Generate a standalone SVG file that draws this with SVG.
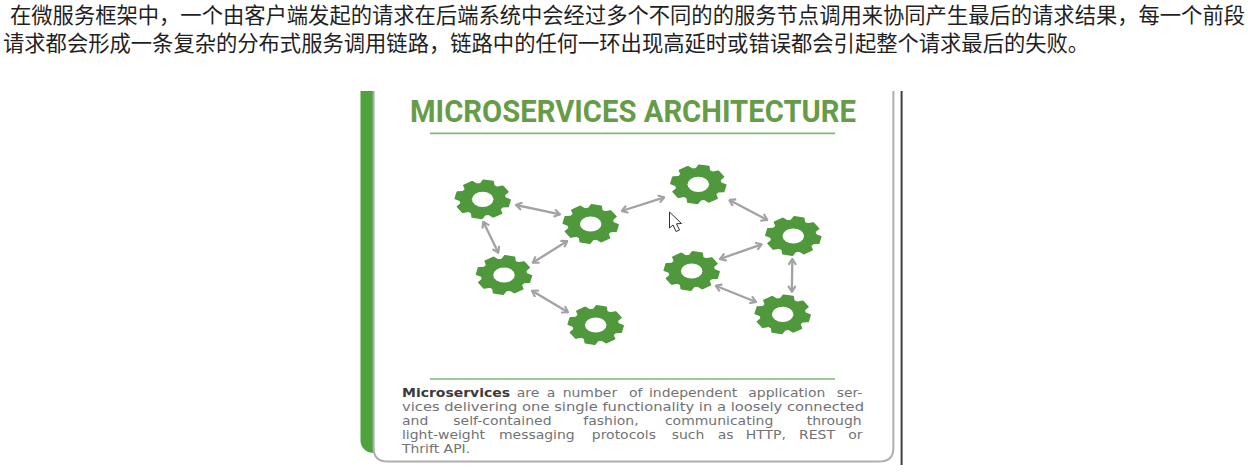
<svg xmlns="http://www.w3.org/2000/svg" xmlns:xlink="http://www.w3.org/1999/xlink" width="1248" height="473" viewBox="0 0 1248 473">
<style>
.cn{font-family:"Noto Sans CJK SC","Liberation Sans",sans-serif;font-size:21.3px;fill:#1f1f1f}
.title{font-family:"Liberation Sans Narrow",Roboto,"Liberation Sans",sans-serif;font-weight:700;font-size:30.5px;fill:#669c48}
.body{font-family:"DejaVu Sans","Liberation Sans",sans-serif;font-size:12.7px;fill:#727274}
.body .b{font-weight:700;fill:#3a3a3c}
.rule{stroke:#7dbb6e;stroke-width:1.6;fill:none}
.conn{stroke:#a2a2a6;stroke-width:2.3;fill:none;marker-start:url(#chev);marker-end:url(#chev)}
.tooth{fill:#4f983c;stroke:#4f983c;stroke-width:1.4;stroke-linejoin:round}
</style>
<defs>
<marker id="chev" viewBox="0 0 10 10" refX="9" refY="5" markerWidth="9" markerHeight="9" markerUnits="userSpaceOnUse" orient="auto-start-reverse">
<path d="M2.5 0.8L9 5L2.5 9.2" fill="none" stroke="#a2a2a6" stroke-width="2.4"/>
</marker>
<path id="tooth" class="tooth" d="M0 0L14.9 -4.6L18.9 -3.4L18.9 3.4L14.9 4.6Z"/>
<g id="gear">
<g transform="rotate(12)">
<use href="#tooth"/>
<use href="#tooth" transform="rotate(45)"/>
<use href="#tooth" transform="rotate(90)"/>
<use href="#tooth" transform="rotate(135)"/>
<use href="#tooth" transform="rotate(180)"/>
<use href="#tooth" transform="rotate(225)"/>
<use href="#tooth" transform="rotate(270)"/>
<use href="#tooth" transform="rotate(315)"/>
</g>
<circle r="16.3" fill="#4f983c"/>
<circle r="7.6" fill="#fff"/>
</g>
</defs>
<rect width="1248" height="473" fill="#fff"/>
<g id="intro">
<text class="cn" x="10" y="23" textLength="1235" lengthAdjust="spacing">在微服务框架中，一个由客户端发起的请求在后端系统中会经过多个不同的的服务节点调用来协同产生最后的请求结果，每一个前段</text>
<text class="cn" x="3" y="51">请求都会形成一条复杂的分布式服务调用链路，链路中的任何一环出现高延时或错误都会引起整个请求最后的失败。</text>
</g>
<g id="card">
<path d="M360.5 91H373V453L368 452Q360.5 448 360.5 441Z" fill="#4ea33d"/>
<path d="M373.6 91V448Q373.6 461.6 388 461.6H879Q893.4 461.6 893.4 448V91" fill="none" stroke="#aeaeb0" stroke-width="2"/>
<path d="M901.6 91V465" stroke="#3f3f3f" stroke-width="2" fill="none"/>
</g>
<g id="heading">
<text class="title" x="410" y="121.7" textLength="446" lengthAdjust="spacingAndGlyphs">MICROSERVICES ARCHITECTURE</text>
<path class="rule" d="M430 133.4H835"/>
</g>
<g id="connectors">
<path class="conn" d="M516 205L560 214.3"/>
<path class="conn" d="M483.3 221.7L498.3 252.7"/>
<path class="conn" d="M567.3 241L532.7 262.7"/>
<path class="conn" d="M532 290.7L568 312.3"/>
<path class="conn" d="M621.7 211L664.3 197.3"/>
<path class="conn" d="M729.3 200L767.3 220"/>
<path class="conn" d="M761.7 244.3L720 259"/>
<path class="conn" d="M792.3 259L791.9 291.7"/>
<path class="conn" d="M715.7 285.7L756 302"/>
</g>
<g id="node-1"><use href="#gear" transform="translate(482.7 199.3) scale(1.42 1)"/></g>
<g id="node-2"><use href="#gear" transform="translate(590.7 224) scale(1.42 1)"/></g>
<g id="node-3"><use href="#gear" transform="translate(504 275) scale(1.42 1)"/></g>
<g id="node-4"><use href="#gear" transform="translate(595.7 325) scale(1.42 1)"/></g>
<g id="node-5"><use href="#gear" transform="translate(698.3 184.3) scale(1.42 1)"/></g>
<g id="node-6"><use href="#gear" transform="translate(793.3 236) scale(1.42 1)"/></g>
<g id="node-7"><use href="#gear" transform="translate(691.7 271) scale(1.42 1)"/></g>
<g id="node-8"><use href="#gear" transform="translate(782.7 314.3) scale(1.42 1)"/></g>
<g id="cursor"><path d="M669.5 212V228L673 225L676 231.5L679.5 230L676.5 223.8L681.5 223.5Z" fill="#fff" stroke="#333" stroke-width="1"/></g>
<g id="description">
<path class="rule" d="M430 379H835"/>
<text class="body" transform="scale(1.1 1)" y="396.7"><tspan class="b" x="365.45">Microservices</tspan><tspan x="469.7">are</tspan><tspan x="497">a</tspan><tspan x="511.5">number</tspan><tspan x="571.8">of</tspan><tspan x="590">independent</tspan><tspan x="680.3">application</tspan><tspan x="760.6">ser-</tspan></text>
<text class="body" x="402" y="411.2" textLength="462" lengthAdjust="spacingAndGlyphs">vices delivering one single functionality in a loosely connected</text>
<text class="body" transform="scale(1.1 1)" y="425.3"><tspan x="365.45">and</tspan><tspan x="412.1">self-contained</tspan><tspan x="530.3">fashion,</tspan><tspan x="604.5">communicating</tspan><tspan x="733.4">through</tspan></text>
<text class="body" transform="scale(1.1 1)" y="439.3"><tspan x="365.45">light-weight</tspan><tspan x="453.6">messaging</tspan><tspan x="538">protocols</tspan><tspan x="610.6">such</tspan><tspan x="652.5">as</tspan><tspan x="678">HTTP,</tspan><tspan x="726.4">REST</tspan><tspan x="771.2">or</tspan></text>
<text class="body" transform="scale(1.1 1)" x="365.45" y="453.4">Thrift API.</text>
</g>
</svg>
